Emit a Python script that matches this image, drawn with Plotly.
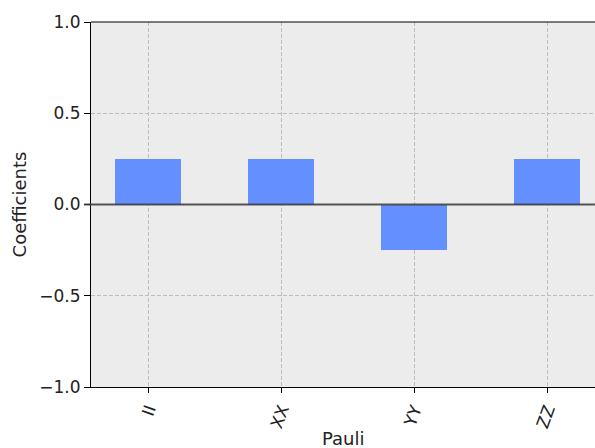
import plotly.graph_objects as go

labels = ["II", "XX", "YY", "ZZ"]
coeffs = [0.25, 0.25, -0.25, 0.25]
yticks = [-1.0, -0.5, 0.0, 0.5, 1.0]
ytick_text = ["\u22121.0", "\u22120.5", "0.0", "0.5", "1.0"]

font = dict(family="DejaVu Sans", size=17, color="#222222")
title_font = dict(family="DejaVu Sans", size=18, color="#222222")
grid = dict(showgrid=True, gridcolor="#bdbdbd", griddash="4px,2px", gridwidth=1, zeroline=False)

fig = go.Figure()
fig.add_trace(go.Bar(
    x=list(range(len(labels))), y=coeffs, width=0.5,
    marker=dict(color="#648fff", line=dict(width=0)),
))
fig.add_shape(type="line", xref="paper", yref="y", x0=-0.014, x1=1, y0=0, y1=0,
              line=dict(color="rgba(60,60,60,0.85)", width=2), layer="above")
fig.add_shape(type="line", xref="paper", yref="paper", x0=0, x1=1, y0=1, y1=1,
              line=dict(color="black", width=1.2), layer="above")

fig.update_layout(
    width=595, height=448,
    margin=dict(l=91, r=0, t=22, b=61),
    paper_bgcolor="white", plot_bgcolor="#ececec",
    font=font, showlegend=False, bargap=0,
    annotations=[
        dict(text="Pauli", xref="paper", yref="paper", x=0.5, y=-0.14,
             xanchor="center", yanchor="middle", showarrow=False, font=title_font),
        dict(text="Coefficients", xref="paper", yref="paper", x=-0.141, y=0.5,
             xanchor="center", yanchor="middle", textangle=-90, showarrow=False, font=title_font),
    ],
)
fig.update_xaxes(
    range=[-0.43, 3.36], tickmode="array", tickvals=list(range(len(labels))),
    ticktext=labels, tickangle=-70, showline=True, linecolor="black", linewidth=1.2,
    ticks="outside", ticklen=5, tickcolor="black",
    tickfont=font, automargin=False, **grid,
)
fig.update_yaxes(
    range=[-1, 1], tickmode="array", tickvals=yticks, ticktext=ytick_text,
    showline=True, linecolor="black", linewidth=1.2,
    ticks="outside", ticklen=6, tickcolor="black",
    tickfont=font, automargin=False, **grid,
)
fig.write_html("out.html", config={"displayModeBar": False},
               post_script="document.body.style.margin='0';")
